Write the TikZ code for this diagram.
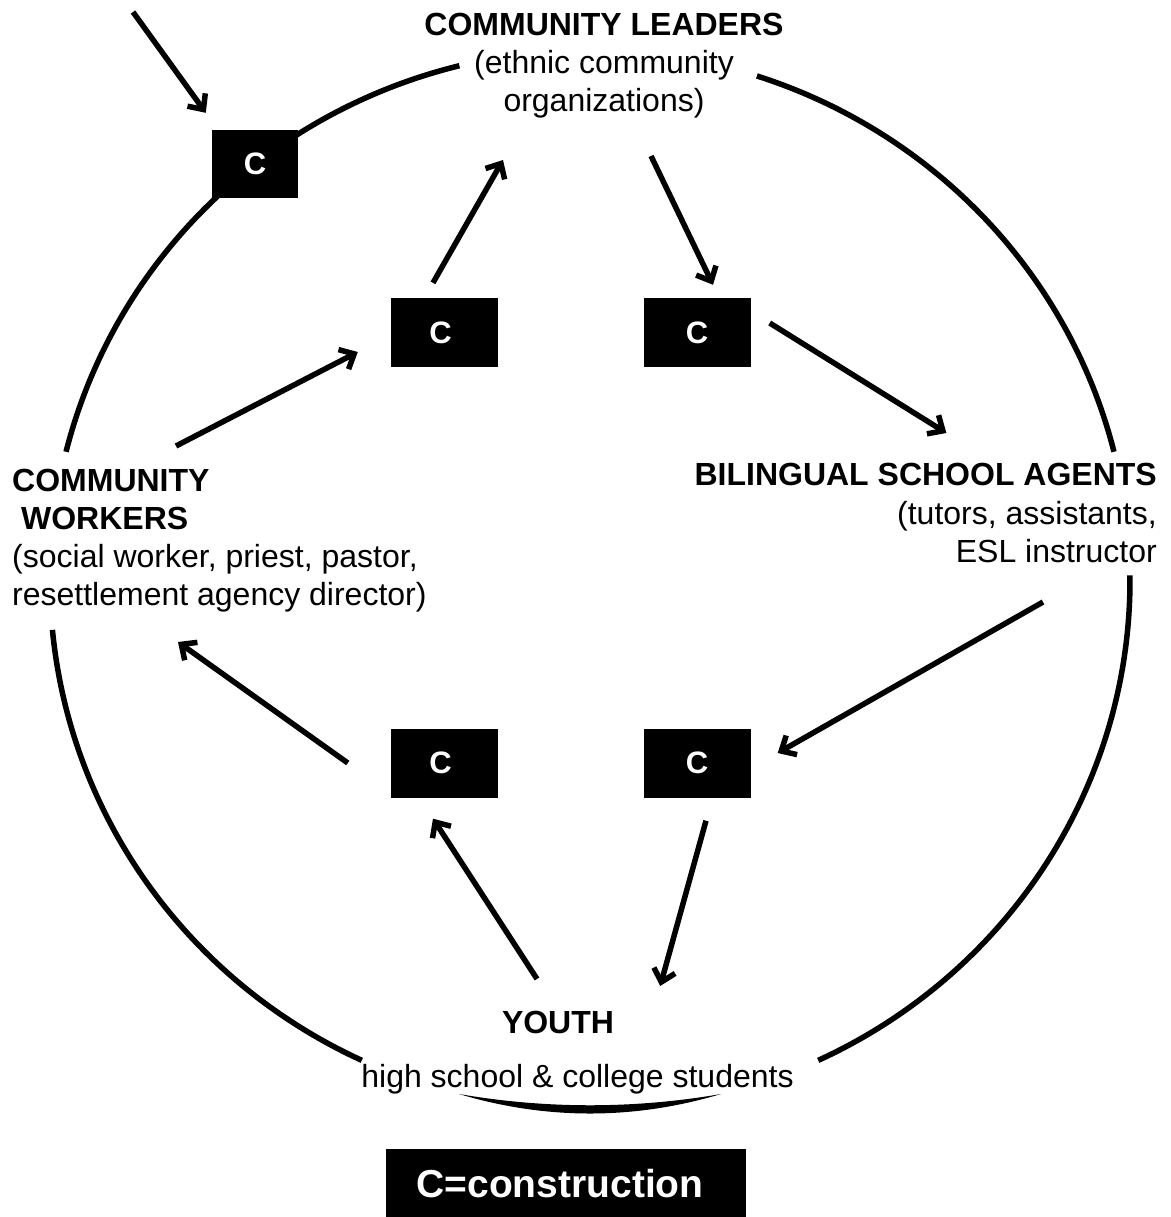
\documentclass[tikz,border=0pt]{standalone}
\usepackage{fontspec}
\setmainfont{Liberation Sans}
\usetikzlibrary{arrows.meta,calc}
\begin{document}
\begin{tikzpicture}[x=1pt,y=-1pt,
  cbox/.style={fill=black,text=white,inner sep=0pt,minimum width=107pt,minimum height=69pt,font=\bfseries\fontsize{31}{33}\selectfont},
  lbl/.style={inner sep=0pt,font=\fontsize{32}{38}\selectfont},
  link/.style={line width=5.5pt,-{Straight Barb[length=12pt,width=22pt]}},
  ring/.style={line width=5.5pt}]
\useasboundingbox[fill=white] (0,0) rectangle (1170,1217);
\coordinate (ctr) at (590,580);
% broken ring
\draw[ring] ($(ctr)+(194:540 and 530)$) arc[start angle=194,end angle=256,x radius=540,y radius=530];
\draw[ring] ($(ctr)+(288:540 and 530)$) arc[start angle=288,end angle=346,x radius=540,y radius=530];
\draw[ring] ($(ctr)+(-0.5:540 and 530)$) arc[start angle=-0.5,end angle=65,x radius=540,y radius=530];
\fill (721,1094) .. controls (634,1120) and (546,1120) .. (459,1094)
      .. controls (546,1109) and (634,1109) .. cycle;
\draw[ring] ($(ctr)+(115:540 and 530)$) arc[start angle=115,end angle=174.6,x radius=540,y radius=530];
% C boxes
\node[cbox,minimum width=86pt,minimum height=68pt] (c1) at (255,164) {C};
\node[cbox] (c2) at (444.5,332.5) {C\kern8pt};
\node[cbox] (c3) at (697,332.5) {C};
\node[cbox] (c4) at (444.5,763) {C\kern8pt};
\node[cbox] (c5) at (697,763) {C};
% labels
\node[lbl,anchor=north,align=center] (lead) at (604,13)
  {\textbf{COMMUNITY LEADERS}\\(ethnic community\\organizations)};
\node[lbl,anchor=north west,align=left] (work) at (12,469)
  {\textbf{COMMUNITY}\\\hspace*{8.9pt}\textbf{WORKERS}\\(social worker, priest, pastor,\\resettlement agency director)};
\node[lbl,anchor=north east,align=right,font=\fontsize{32}{38.5}\selectfont] (bil) at (1157,463)
  {\textbf{BILINGUAL SCHOOL AGENTS}\\(tutors, assistants,\\ESL instructor};
\node[lbl,anchor=base,font=\bfseries\fontsize{32}{37}\selectfont] (youth) at (558,1033.5) {YOUTH};
\node[lbl,anchor=base] (youthsub) at (577.5,1087) {high school \& college students};
\node[fill=black,text=white,minimum width=360pt,minimum height=70pt,inner sep=0pt,font=\bfseries\fontsize{39}{41}\selectfont] (key) at (566,1184) {C=construction\kern12pt};
% connectors
\coordinate (ain) at (133,12);
\draw[link] (ain) -- ($(c1.north west)+(-6,-17)$);
\draw[link] ($(c2.north)+(-11.5,-15)$) -- ($(lead.north)+(-101,147)$);
\draw[link] ($(lead.north)+(47,143)$) -- ($(c3.north)+(16,-13)$);
\draw[link] ($(c3.east)+(19,-9.5)$) -- ($(bil.north west)+(252,-30)$);
\draw[link] ($(bil.north east)+(-114,139)$) -- ($(c5.east)+(27,-10)$);
\draw[link] ($(c5.south)+(9,23)$) -- ($(youth.north east)+(46,-25)$);
\draw[link] ($(youth.north)+(-21,-32)$) -- ($(c4.south)+(-11.5,21)$);
\draw[link] ($(c4.west)+(-43,0)$) -- ($(work.north west)+(166,173)$);
\draw[link] ($(work.north west)+(164,-23)$) -- ($(c2.west)+(-33,19.5)$);
\end{tikzpicture}
\end{document}
